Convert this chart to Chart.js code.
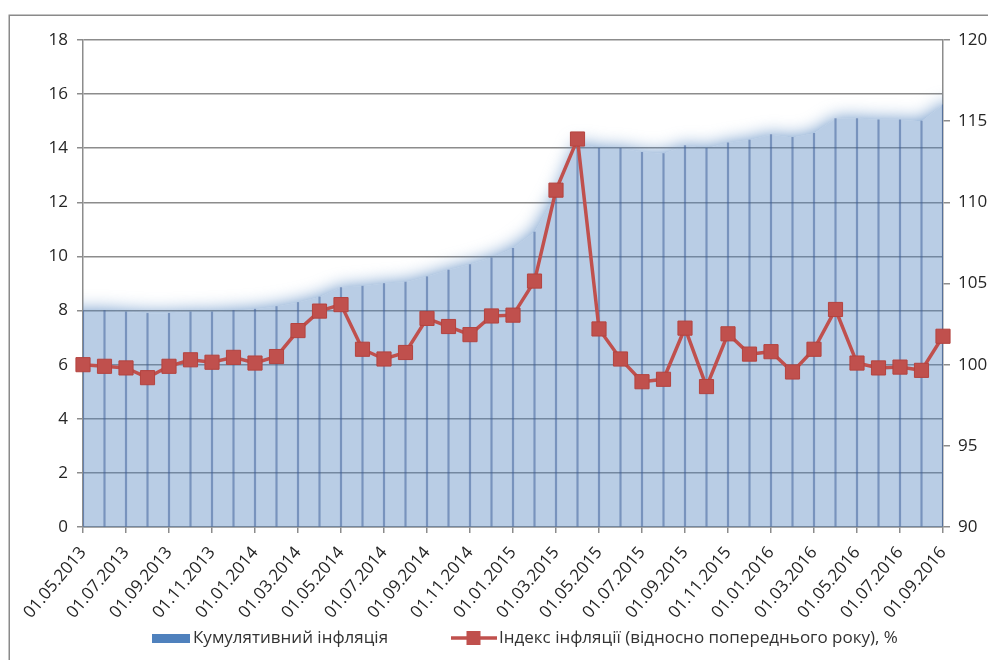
<!DOCTYPE html>
<html><head><meta charset="utf-8">
<script src="https://cdn.jsdelivr.net/npm/chart.js@4/dist/chart.umd.min.js"></script>
<style>
html,body{margin:0;padding:0;background:#fff;overflow:hidden;}
#wrap{width:988px;height:660px;overflow:hidden;position:relative;}
canvas{display:block;}
</style></head><body>
<div id="wrap"><canvas id="c" width="1010" height="660"></canvas></div>
<script>
const categories = [
  '01.05.2013','01.06.2013','01.07.2013','01.08.2013','01.09.2013','01.10.2013','01.11.2013','01.12.2013',
  '01.01.2014','01.02.2014','01.03.2014','01.04.2014','01.05.2014','01.06.2014','01.07.2014','01.08.2014',
  '01.09.2014','01.10.2014','01.11.2014','01.12.2014','01.01.2015','01.02.2015','01.03.2015','01.04.2015',
  '01.05.2015','01.06.2015','01.07.2015','01.08.2015','01.09.2015','01.10.2015','01.11.2015','01.12.2015',
  '01.01.2016','01.02.2016','01.03.2016','01.04.2016','01.05.2016','01.06.2016','01.07.2016','01.08.2016',
  '01.09.2016'
];
const cumulativeInflation = [
  8.0, 8.0, 7.95, 7.9, 7.9, 7.95, 7.95, 8.0, 8.05, 8.15,
  8.3, 8.5, 8.85, 8.9, 9.0, 9.05, 9.25, 9.5, 9.7, 9.95,
  10.3, 10.9, 12.3, 14.2, 14.0, 14.0, 13.85, 13.8, 14.1, 14.0,
  14.2, 14.3, 14.5, 14.4, 14.55, 15.1, 15.1, 15.05, 15.05, 15.0,
  15.6
];
const inflationIndex = [
  100.0, 99.9, 99.8, 99.2, 99.9, 100.3, 100.15, 100.45, 100.1, 100.5,
  102.1, 103.3, 103.7, 100.95, 100.35, 100.75, 102.85, 102.35, 101.85, 103.0,
  103.05, 105.15, 110.75, 113.9, 102.2, 100.35, 98.95, 99.1, 102.25, 98.65,
  101.9, 100.65, 100.8, 99.55, 100.95, 103.4, 100.1, 99.8, 99.85, 99.65,
  101.75
];
const leftAxis = {min: 0, max: 18, step: 2};
const rightAxis = {min: 90, max: 120, step: 5};
const seriesNames = ['Кумулятивний інфляція', 'Індекс інфляції (відносно попереднього року), %'];

Chart.defaults.font.family = "'Open Sans', sans-serif";
Chart.defaults.font.weight = '500';
Chart.defaults.color = '#262626';

const GRID = '#8c8c8c';
const RED = '#c0504d';
const BLUE = '#4f81bd';

const deco = {
  id: 'deco',
  beforeDraw(chart){
    const c = chart.ctx; c.save();
    c.fillStyle = '#fff'; c.fillRect(0, 0, chart.width, chart.height);
    c.strokeStyle = '#8a8a8a'; c.lineWidth = 1.5;
    c.strokeRect(9.25, 15.25, chart.width + 60, chart.height + 60);
    c.restore();
  },
  beforeDatasetsDraw(chart){
    // soft glow above the cumulative area (decoration only, follows library-computed points)
    const pts = chart.getDatasetMeta(0).data;
    const a = chart.chartArea;
    const base = chart.scales.y.getPixelForValue(0);
    const ctx = chart.ctx;
    const n = pts.length;
    const shape = new Path2D();
    shape.moveTo(a.left - 40, pts[0].y);
    pts.forEach(p => shape.lineTo(p.x, p.y));
    shape.lineTo(a.right + 40, pts[n - 1].y);
    shape.lineTo(a.right + 40, base + 40);
    shape.lineTo(a.left - 40, base + 40);
    shape.closePath();
    const clip = new Path2D();
    clip.rect(a.left, a.top, a.right - a.left, a.bottom - a.top);
    const inner = new Path2D();
    inner.moveTo(pts[0].x, base);
    pts.forEach(p => inner.lineTo(p.x, p.y));
    inner.lineTo(pts[n - 1].x, base);
    inner.closePath();
    clip.addPath(inner);
    ctx.save();
    ctx.clip(clip, 'evenodd');
    ctx.filter = 'blur(9px)';
    ctx.fillStyle = 'rgba(79,129,189,0.85)';
    ctx.fill(shape);
    ctx.restore();
  },
  afterDraw(chart){
    const c = chart.ctx; c.save();
    c.font = "500 17px 'Open Sans', sans-serif";
    c.textBaseline = 'middle'; c.textAlign = 'left';
    const y = 638;
    c.fillStyle = BLUE; c.fillRect(152, 634, 38, 9);
    c.fillStyle = '#333'; c.fillText(seriesNames[0], 193, y);
    c.strokeStyle = RED; c.lineWidth = 3.5;
    c.beginPath(); c.moveTo(451, y); c.lineTo(497, y); c.stroke();
    c.fillStyle = RED; c.fillRect(466.5, y - 7, 14, 14);
    c.fillStyle = '#333'; c.fillText(seriesNames[1], 499, y);
    c.restore();
  }
};

new Chart(document.getElementById('c'), {
  type: 'bar',
  data: {
    labels: categories,
    datasets: [
      {type: 'line', label: seriesNames[0], data: cumulativeInflation, yAxisID: 'y', fill: 'origin',
       backgroundColor: 'rgba(79,129,189,0.4)', borderWidth: 0, borderColor: 'rgba(0,0,0,0)', pointRadius: 0, tension: 0, order: 3},
      {type: 'bar', label: 'drop', data: cumulativeInflation, yAxisID: 'y',
       backgroundColor: 'rgba(55,90,150,0.5)', barThickness: 1.5, order: 2},
      {type: 'line', label: seriesNames[1], data: inflationIndex, yAxisID: 'y1',
       borderColor: RED, borderWidth: 3.5, pointStyle: 'rect', pointRadius: 10,
       pointBackgroundColor: RED, pointBorderColor: '#b4433f', pointBorderWidth: 1, tension: 0, order: 1}
    ]
  },
  options: {
    responsive: false, animation: false,
    layout: {padding: {left: 46, top: 40, right: 0, bottom: 40}},
    plugins: {tooltip: {enabled: false}, legend: {display: false}},
    scales: {
      x: {
        offset: false,
        grid: {offset: false, drawOnChartArea: false, drawTicks: true, tickLength: 6, lineWidth: 1.5,
               color: ctx => (ctx.index % 2 === 0 ? GRID : 'rgba(0,0,0,0)')},
        border: {display: true, color: GRID, width: 1.5},
        ticks: {autoSkip: false, maxRotation: 50, minRotation: 50, padding: 10, font: {size: 17},
                callback: (v, i) => (i % 2 === 0 ? categories[i] : '')},
        afterFit: s => { s.height = 93; }
      },
      y: {
        position: 'left', min: leftAxis.min, max: leftAxis.max,
        ticks: {stepSize: leftAxis.step, padding: 9, font: {size: 17}},
        grid: {color: GRID, lineWidth: 1.5, tickLength: 6},
        border: {color: GRID, width: 1.5},
        afterFit: s => { s.width = 37; }
      },
      y1: {
        position: 'right', min: rightAxis.min, max: rightAxis.max,
        ticks: {stepSize: rightAxis.step, padding: 8, font: {size: 17}},
        grid: {drawOnChartArea: false, color: GRID, lineWidth: 1.5, tickLength: 7},
        border: {color: GRID, width: 1.5},
        afterFit: s => { s.width = 67; }
      }
    }
  },
  plugins: [deco]
});
</script>
</body></html>
